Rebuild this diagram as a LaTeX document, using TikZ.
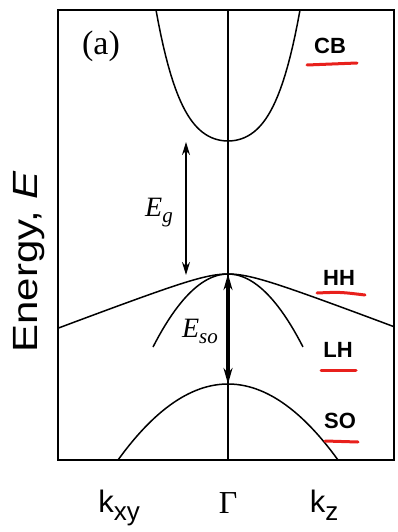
\documentclass[tikz,border=0pt]{standalone}
\usepackage{fontspec}
\setmainfont{Liberation Serif}
\setsansfont{Liberation Sans}
\usepackage{graphicx}
\usetikzlibrary{arrows.meta}
\definecolor{markred}{RGB}{232,32,28}
\newcommand{\fsz}[1]{\fontsize{#1}{#1}\selectfont}

\begin{document}
\begin{tikzpicture}[x = 1pt, y = -1pt,
    band/.style = {line width = 1.5pt},
    bandname/.style = {font = \sffamily\bfseries\fsz{22}},
    redmark/.style = {markred, line width = 3pt, line cap = round},
    gaptip/.style = {{Stealth[length = 13pt, width = 8pt]}-{Stealth[length = 13pt, width = 8pt]}, line width = 1.6pt},
    sotip/.style = {{Stealth[length = 16pt, width = 9pt]}-{Stealth[length = 16pt, width = 9pt]}, line width = 3.2pt}]
            \useasboundingbox (0, 0) rectangle (397, 532);

            \coordinate (cbmin) at (228, 141);
            \coordinate (vbtop) at (228, 274);
            \coordinate (sotop) at (228, 384);
            \coordinate (egtop) at (186, 142);
            \coordinate (egbot) at (186, 275);
            \coordinate (gtop) at (228, 10);
            \coordinate (gbot) at (228, 460);

            \draw [line width = 1.8pt] (58, 10) rectangle (394, 460);
            \draw [line width = 1.4pt] (gtop) -- (gbot);

            % bands
            \draw [band] plot[domain = -1:1, samples = 60] ({228 + 72*\x}, {141 - 61.2*\x*\x - 69.8*\x*\x*\x*\x});
            \draw [band] plot[domain = -5.667:5.533, samples = 80] ({228 + 30*\x}, {274 + 11.4*(sqrt(1 + \x*\x) - 1)});
            \draw [band] plot[domain = -1:1, samples = 50] ({228 + 75*\x}, {274 + 73*\x*\x});
            \draw [band] plot[domain = -1:1, samples = 60] ({228 + 110*\x}, {384 + 76*\x*\x});

            \draw [gaptip] (egtop) -- (egbot);
            \draw [sotip] (vbtop) -- (sotop);

            \node (eg) at (159, 213) {\fsz{28}\itshape E\raisebox{-6pt}{\fsz{21}g}};
            \node (eso) at (200, 331) {\fsz{28}\itshape E\raisebox{-6pt}{\fsz{21}so}};

            \node (panel) at (101, 46) {\fsz{34}(a)};
            \node [bandname] (cb) at (330, 46) {CB};
            \node [bandname] (hh) at (339, 278) {HH};
            \node [bandname] (lh) at (338, 350) {LH};
            \node [bandname] (so) at (340, 421) {SO};

            \draw [redmark] (307, 65) -- (357, 63);
            \draw [redmark] (317, 293) .. controls (340, 292) .. (365, 295);
            \draw [redmark] (321, 370) -- (356, 370);
            \draw [redmark] (325, 441) -- (358, 442);

            \node [rotate = 90, anchor = base] (energy) at (37, 262) {\sffamily\fsz{35}\scalebox{1.2}[1]{Energy, \itshape E}};

            \node [anchor = base] (kxy) at (119, 512) {\sffamily\fsz{31}k\raisebox{-8pt}{\fsz{26}xy}};
            \node [anchor = base] (gamma) at (228, 513) {\fsz{32}Γ};
            \node [anchor = base] (kz) at (324, 512) {\sffamily\fsz{31}k\raisebox{-8pt}{\fsz{26}z}};
        \end{tikzpicture}
\end{document}
